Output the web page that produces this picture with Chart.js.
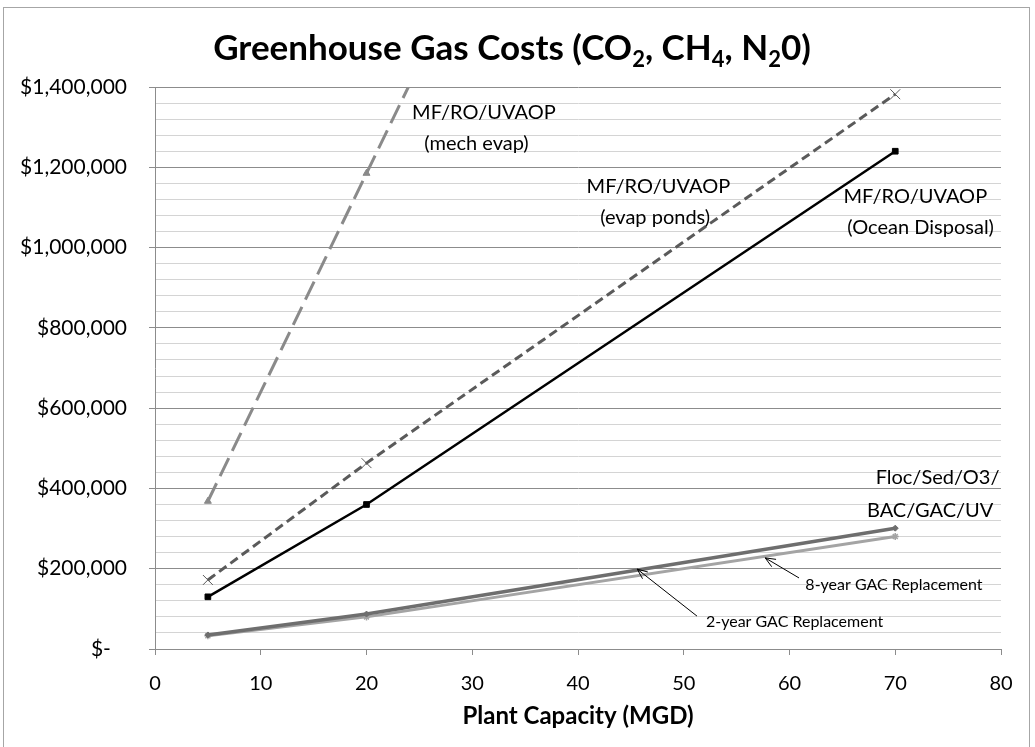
<!DOCTYPE html>
<html>
<head>
<meta charset="utf-8">
<script src="https://cdn.jsdelivr.net/npm/chart.js@4/dist/chart.umd.min.js"></script>
<style>
  html, body { margin: 0; padding: 0; background: #ffffff; }
  canvas { display: block; }
</style>
</head>
<body>
<canvas id="c" width="1035" height="747"></canvas>
<script>
// ---- data ----
const capacity = [5, 20, 70];                       // MGD
const mechEvap = [368000, 1185000, 3900000];        // MF/RO/UVAOP (mech evap)
const evapPonds = [172000, 463000, 1382000];        // MF/RO/UVAOP (evap ponds)
const oceanDisposal = [130000, 360000, 1240000];    // MF/RO/UVAOP (Ocean Disposal)
const gac2yr = [35000, 87000, 301000];              // Floc/Sed/O3/BAC/GAC/UV, 2-year GAC
const gac8yr = [33000, 80000, 280000];              // Floc/Sed/O3/BAC/GAC/UV, 8-year GAC
const xTicks = [0, 10, 20, 30, 40, 50, 60, 70, 80];
const yTicks = [0, 200000, 400000, 600000, 800000, 1000000, 1200000, 1400000];

const titleParts = [["Greenhouse Gas Costs (CO", false], ["2", true], [", CH", false], ["4", true], [", N", false], ["2", true], ["0)", false]];
const xTitle = "Plant Capacity (MGD)";

// annotation texts, anchored in data coordinates
const labels = [
  { text: "MF/RO/UVAOP", x: 31.1, y: 1337000, align: "center", size: 20 },
  { text: "(mech evap)", x: 30.4, y: 1260000, align: "center", size: 20 },
  { text: "MF/RO/UVAOP", x: 47.6, y: 1153000, align: "center", size: 20 },
  { text: "(evap ponds)", x: 47.3, y: 1074000, align: "center", size: 20 },
  { text: "MF/RO/UVAOP", x: 71.9, y: 1126000, align: "center", size: 20 },
  { text: "(Ocean Disposal)", x: 72.4, y: 1049000, align: "center", size: 20 },
  { text: "Floc/Sed/O3/", x: 74.0, y: 426000, align: "center", size: 20 },
  { text: "BAC/GAC/UV", x: 73.3, y: 346000, align: "center", size: 20 },
  { text: "8-year GAC Replacement", x: 61.5, y: 159000, align: "left", size: 16 },
  { text: "2-year GAC Replacement", x: 52.1, y: 67000, align: "left", size: 16 }
];
const arrows = [
  { x1: 60.9, y1: 177000, x2: 57.7, y2: 227000 },
  { x1: 51.25, y1: 82000, x2: 45.6, y2: 199000 }
];

const FONT = "Lato, 'Open Sans', 'Liberation Sans', sans-serif";

function pts(ys) { return capacity.map((x, i) => ({ x: x, y: ys[i] })); }

const frame = {
  id: 'frame',
  beforeDraw(chart) {
    const c = chart.ctx;
    c.save();
    c.fillStyle = '#ffffff';
    c.fillRect(0, 0, chart.width, chart.height);
    c.strokeStyle = '#a6a6a6';
    c.lineWidth = 1;
    c.strokeRect(3.5, 7.5, 1026, 745);
    c.restore();
  }
};

const titlePlugin = {
  id: 'subTitle',
  afterDraw(chart) {
    const c = chart.ctx;
    const size = 35, sub = 22;
    c.save();
    c.fillStyle = '#000';
    c.textBaseline = 'alphabetic';
    let total = 0;
    titleParts.forEach(([t, s]) => { c.font = 'bold ' + (s ? sub : size) + 'px ' + FONT; total += c.measureText(t).width; });
    let x = 512 - total / 2;
    const base = 60;
    titleParts.forEach(([t, s]) => {
      c.font = 'bold ' + (s ? sub : size) + 'px ' + FONT;
      c.fillText(t, x, s ? base + 7 : base);
      x += c.measureText(t).width;
    });
    c.restore();
  }
};

const notes = {
  id: 'notes',
  afterDatasetsDraw(chart) {
    const c = chart.ctx, xs = chart.scales.x, ys = chart.scales.y;
    c.save();
    c.fillStyle = '#000';
    c.textBaseline = 'middle';
    labels.forEach(l => {
      c.font = l.size + 'px ' + FONT;
      c.textAlign = l.align;
      c.fillText(l.text, xs.getPixelForValue(l.x), ys.getPixelForValue(l.y));
    });
    c.strokeStyle = '#000';
    c.lineWidth = 1;
    arrows.forEach(a => {
      const x1 = xs.getPixelForValue(a.x1), y1 = ys.getPixelForValue(a.y1);
      const x2 = xs.getPixelForValue(a.x2), y2 = ys.getPixelForValue(a.y2);
      const ang = Math.atan2(y2 - y1, x2 - x1);
      c.beginPath();
      c.moveTo(x1, y1); c.lineTo(x2, y2);
      const h = 11, w = 0.4;
      c.moveTo(x2 - h * Math.cos(ang - w), y2 - h * Math.sin(ang - w));
      c.lineTo(x2, y2);
      c.lineTo(x2 - h * Math.cos(ang + w), y2 - h * Math.sin(ang + w));
      c.stroke();
    });
    c.restore();
  }
};

const MAJOR = '#8c8c8c', MINOR = '#d4d4d4';

new Chart(document.getElementById('c'), {
  type: 'line',
  data: {
    datasets: [
      { label: 'MF/RO/UVAOP (mech evap)', data: pts(mechEvap), borderColor: '#8a8a8a', backgroundColor: '#8a8a8a',
        borderWidth: 3, borderDash: [20, 8], pointStyle: 'triangle', pointRadius: 4, pointBorderWidth: 1 },
      { label: 'MF/RO/UVAOP (evap ponds)', data: pts(evapPonds), borderColor: '#5a5a5a', backgroundColor: '#5a5a5a',
        borderWidth: 3, borderDash: [9, 5], pointStyle: 'crossRot', pointRadius: 7, pointBorderWidth: 1, pointBorderColor: '#5a5a5a' },
      { label: 'MF/RO/UVAOP (Ocean Disposal)', data: pts(oceanDisposal), borderColor: '#000000', backgroundColor: '#000000',
        borderWidth: 2.5, pointStyle: 'rect', pointRadius: 4, pointBorderWidth: 1 },
      { label: '2-year GAC Replacement', data: pts(gac2yr), borderColor: '#6e6e6e', backgroundColor: '#6e6e6e',
        borderWidth: 3.5, pointStyle: 'rectRot', pointRadius: 3, pointBorderWidth: 1 },
      { label: '8-year GAC Replacement', data: pts(gac8yr), borderColor: '#a4a4a4', backgroundColor: '#a4a4a4',
        borderWidth: 3, pointStyle: 'star', pointRadius: 3.5, pointBorderWidth: 1.5 }
    ]
  },
  options: {
    responsive: false,
    devicePixelRatio: 1,
    animation: false,
    layout: { padding: { left: 0, top: 87, right: 34, bottom: 12 } },
    plugins: { legend: { display: false }, title: { display: false }, tooltip: { enabled: false } },
    elements: { line: { tension: 0 } },
    scales: {
      x: {
        type: 'linear', min: xTicks[0], max: xTicks[xTicks.length - 1],
        afterBuildTicks(s) { s.ticks = xTicks.map(v => ({ value: v })); },
        afterFit(s) { s.height = 86; },
        ticks: { color: '#000', font: { family: FONT, size: 20 }, padding: 17, maxRotation: 0 },
        grid: { drawOnChartArea: false, color: MAJOR, tickLength: 6 },
        border: { color: MAJOR },
        title: { display: true, text: xTitle, color: '#000', font: { family: FONT, size: 24, weight: 'bold' }, padding: { top: 4 } }
      },
      y: {
        type: 'linear', min: 0, max: 1400000,
        afterBuildTicks(s) {
          const t = [];
          for (let i = 0; i <= 35; i++) t.push({ value: i * 40000 });
          s.ticks = t;
        },
        afterFit(s) { s.width = 155; },
        ticks: {
          color: '#000', font: { family: FONT, size: 21 }, padding: 22, autoSkip: false,
          callback(v) {
            if (!yTicks.includes(v)) return '';
            return v === 0 ? '$-   ' : '$' + v.toLocaleString('en-US');
          }
        },
        grid: {
          color: ctx => (ctx.tick && yTicks.includes(ctx.tick.value)) ? MAJOR : MINOR,
          tickColor: ctx => (ctx.tick && yTicks.includes(ctx.tick.value)) ? MAJOR : 'rgba(0,0,0,0)',
          tickLength: 6, lineWidth: 1
        },
        border: { color: MAJOR }
      }
    }
  },
  plugins: [frame, titlePlugin, notes]
});
</script>
</body>
</html>
